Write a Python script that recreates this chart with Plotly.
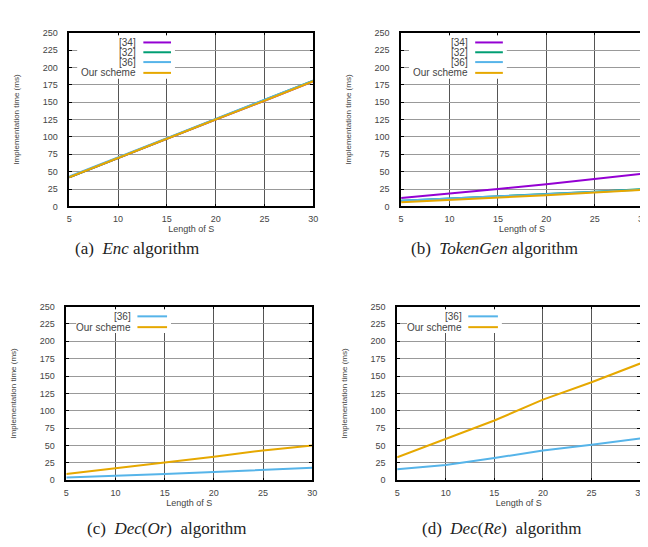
import plotly.graph_objects as go

# ---------------- data ----------------
length_s = [5, 10, 15, 20, 25, 30]

enc_34 = [42, 70, 98, 125, 152, 180]
enc_32 = [42, 70, 97, 125, 153, 181]
enc_36 = [43, 70, 98, 126, 153, 181]
enc_ours = [42, 70, 98, 125, 152, 180]

tok_34 = [12, 18, 25, 32, 39, 47]
tok_32 = [8, 11, 14, 18, 21, 25]
tok_36 = [8, 11, 14, 17, 21, 24]
tok_ours = [6, 9, 12, 16, 20, 24]

decor_36 = [4, 6, 9, 12, 15, 18]
decor_ours = [9, 17, 25, 34, 43, 50]

decre_36 = [16, 22, 32, 43, 51, 60]
decre_ours = [33, 60, 86, 116, 141, 168]

y_ticks = [0, 25, 50, 75, 100, 125, 150, 175, 200, 225, 250]
x_ticks = [5, 10, 15, 20, 25, 30]

names4 = ["[34]", "[32]", "[36]", "Our scheme"]
names2 = ["[36]", "Our scheme"]
captions = ["(a)  <i>Enc</i> algorithm", "(b)  <i>TokenGen</i> algorithm",
            "(c)  <i>Dec</i>(<i>Or</i>)  algorithm", "(d)  <i>Dec</i>(<i>Re</i>)  algorithm"]

C34, C32, C36, COURS = "#9400D3", "#009E73", "#56B4E9", "#E6A800"

W, H = 648, 547
def px_x(a, b):
    return [a / W, b / W]
def px_y(top, bot):
    return [1 - bot / H, 1 - top / H]

panels = [
    dict(xd=px_x(59, 306), yd=px_y(20, 197),
         series=[(enc_34, C34), (enc_32, C32), (enc_36, C36), (enc_ours, COURS)], names=names4),
    dict(xd=px_x(395, 640), yd=px_y(20, 197),
         series=[(tok_34, C34), (tok_32, C32), (tok_36, C36), (tok_ours, COURS)], names=names4),
    dict(xd=px_x(56, 305), yd=px_y(299, 476),
         series=[(decor_36, C36), (decor_ours, COURS)], names=names2),
    dict(xd=px_x(391, 637), yd=px_y(299, 476),
         series=[(decre_36, C36), (decre_ours, COURS)], names=names2),
]

fig = go.Figure()
layout = dict(width=W, height=H, margin=dict(l=0, r=0, t=0, b=0),
              paper_bgcolor="white", plot_bgcolor="white", showlegend=False,
              font=dict(family="Liberation Sans, Arial", size=9, color="#333"))
annotations = []
shapes = []

for i, p in enumerate(panels):
    k = "" if i == 0 else str(i + 1)
    xa, ya = "x" + k, "y" + k
    for vals, col in p["series"]:
        fig.add_trace(go.Scatter(x=length_s, y=vals, mode="lines", xaxis=xa, yaxis=ya,
                                 line=dict(color=col, width=2)))
    common = dict(showline=True, linecolor="black", linewidth=1.5, mirror="ticks",
                  ticks="inside", ticklen=3, tickcolor="black", showgrid=True,
                  zeroline=False, tickfont=dict(size=9, color="#444"))
    layout["xaxis" + k] = dict(domain=p["xd"], anchor=ya, range=[5, 30], tickvals=x_ticks,
                               gridcolor="#555", gridwidth=1, ticklabelstandoff=3,
                               title=dict(text="Length of S", font=dict(size=9, color="#444"),
                                          standoff=0), **common)
    layout["yaxis" + k] = dict(domain=p["yd"], anchor=xa, range=[0, 250], tickvals=y_ticks,
                               gridcolor="#999", gridwidth=1, ticklabelstandoff=8,
                               title=dict(text="Implementation time (ms)",
                                          font=dict(size=8, color="#444"), standoff=22), **common)
    # legend (gnuplot style: text left, sample right)
    names = p["names"]
    x0 = p["xd"][0] * W
    if i in (0, 1):
        text_right, ls, le, rows = x0 + 70, x0 + 75, x0 + 103, [30, 40, 50, 61]
        box = (x0 + 8, x0 + 107, 23, 67)
    else:
        text_right, ls, le, rows = x0 + 68, x0 + 72, x0 + 102, [309, 320]
        box = (x0 + 10, x0 + 106, 302, 326)
    shapes.append(dict(type="rect", xref="paper", yref="paper", layer="above",
                       x0=box[0] / W, x1=box[1] / W, y0=1 - box[3] / H, y1=1 - box[2] / H,
                       line=dict(width=0), fillcolor="white"))
    for nm, (vals, col), ry in zip(names, p["series"], rows):
        annotations.append(dict(x=text_right / W, y=1 - ry / H, xref="paper", yref="paper",
                                text=nm, showarrow=False, xanchor="right", yanchor="middle",
                                font=dict(size=10, color="#444")))
        shapes.append(dict(type="line", xref="paper", yref="paper", layer="above",
                           x0=ls / W, x1=le / W, y0=1 - ry / H, y1=1 - ry / H,
                           line=dict(color=col, width=2)))

cap_pos = [(128, 240), (490, 240), (158, 525), (497, 525)]
for cap, (cx, cy) in zip(captions, cap_pos):
    annotations.append(dict(x=cx / W, y=1 - cy / H, xref="paper", yref="paper", text=cap,
                            showarrow=False, xanchor="center", yanchor="middle",
                            font=dict(family="Liberation Serif, Times New Roman", size=17,
                                      color="#222")))

layout["annotations"] = annotations
layout["shapes"] = shapes
fig.update_layout(**layout)
fig.write_html("out.html")
